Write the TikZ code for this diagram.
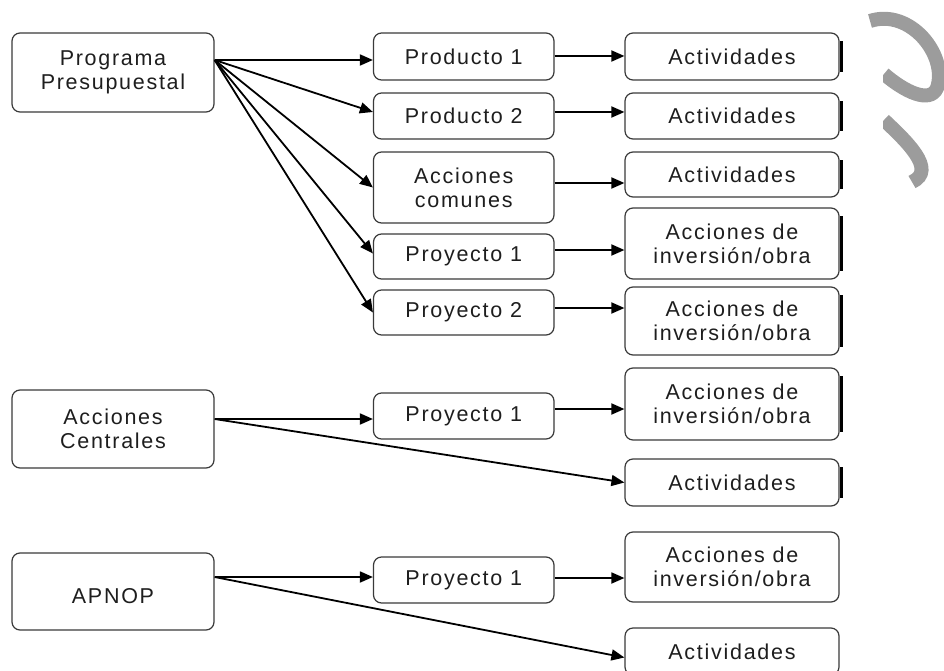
\documentclass[tikz,border=0pt]{standalone}
\usepackage{fontspec}
\setmainfont{Liberation Sans}[LetterSpace=8]
\usetikzlibrary{arrows.meta}
\definecolor{txt}{HTML}{1E1E1E}
\definecolor{edge}{HTML}{3A3A3A}
\definecolor{swirl}{HTML}{9C9C9C}
\begin{document}
\begin{tikzpicture}[x=1pt,y=-1pt,
  box/.style={draw=edge,line width=1.2pt,rounded corners=8pt,fill=white,
    align=center,inner sep=0pt,text=txt,
    font=\fontsize{21.5}{24}\selectfont},
  leftbox/.style={box,minimum width=202pt},
  midbox/.style={box,minimum width=180.5pt},
  rightbox/.style={box,minimum width=214pt},
  arr/.style={draw=black,line width=1.8pt,-{Triangle[length=13pt,width=11pt]}},
  shade/.style={draw=black,line width=2.6pt}]
\useasboundingbox (0,0) rectangle (944,671);
% decoration
\begin{scope}
\clip (855,0) -- (944,0) -- (944,200) -- (883,200) -- (883,30) -- (855,30) -- cycle;
\draw[swirl,line width=14pt] (870,21) .. controls (910,8) and (948,55) .. (937,88)
   .. controls (930,104) and (905,92) .. (884,74);
\draw[swirl,line width=14pt] (884,120) .. controls (905,140) and (938,170) .. (912,182);
\end{scope}
% left column
\node[leftbox,minimum height=79pt] (prog) at (113,72.5) {Programa\\Presupuestal};
\node[leftbox,minimum height=78pt] (acen) at (113,429) {Acciones\\Centrales};
\node[leftbox,minimum height=77pt] (apnop) at (113,591.5) {\mbox{}\\APNOP};
% middle column
\node[midbox,minimum height=47pt] (pr1) at (463.75,56.5) {Producto 1};
\node[midbox,minimum height=46pt] (pr2) at (463.75,116) {Producto 2};
\node[midbox,minimum height=71pt] (acom) at (463.75,187.5) {Acciones\\comunes};
\node[midbox,minimum height=45pt] (py1) at (463.75,256.5) {Proyecto 1};
\node[midbox,minimum height=45pt] (py2) at (463.75,312.5) {Proyecto 2};
\node[midbox,minimum height=46pt] (cp1) at (463.75,416) {Proyecto 1};
\node[midbox,minimum height=46pt] (ap1) at (463.75,580) {Proyecto 1};
% right column
\node[rightbox,minimum height=47pt] (a1) at (732,56.5) {Actividades};
\node[rightbox,minimum height=46pt] (a2) at (732,116) {Actividades};
\node[rightbox,minimum height=45pt] (a3) at (732,174.5) {Actividades};
\node[rightbox,minimum height=71pt] (i1) at (732,243.5) {Acciones de\\inversión/obra};
\node[rightbox,minimum height=68pt] (i2) at (732,321) {Acciones de\\inversión/obra};
\node[rightbox,minimum height=72pt] (i3) at (732,404) {Acciones de\\inversión/obra};
\node[rightbox,minimum height=47pt] (a4) at (732,482.5) {Actividades};
\node[rightbox,minimum height=70pt] (i4) at (732,567) {Acciones de\\inversión/obra};
\node[rightbox,minimum height=47pt] (a5) at (732,651.5) {Actividades};
% right edge shading
\foreach \n in {a1,a2,a3,i1,i2,i3,a4}{
  \draw[shade] ([xshift=1.8pt,yshift=-9pt]\n.north east) -- ([xshift=1.8pt,yshift=9pt]\n.south east);
}
% connectors from Programa Presupuestal
\coordinate (ps) at ([yshift=12.5pt]prog.east);
\draw[arr] (ps) -- (ps -| pr1.west);
\draw[arr] (ps) -- ([yshift=4pt]pr2.west);
\draw[arr] (ps) -- (acom.west);
\draw[arr] (ps) -- ([yshift=3pt]py1.west);
\draw[arr] (ps) -- (py2.west);
% middle to right
\draw[arr] ([yshift=0.5pt]pr1.east) -- ([yshift=0.5pt]pr1.east -| a1.west);
\draw[arr] ([yshift=4pt]pr2.east) -- ([yshift=4pt]pr2.east -| a2.west);
\draw[arr] ([yshift=4.5pt]acom.east) -- ([yshift=4.5pt]acom.east -| a3.west);
\draw[arr] ([yshift=6.5pt]py1.east) -- ([yshift=6.5pt]py1.east -| i1.west);
\draw[arr] ([yshift=4.5pt]py2.east) -- ([yshift=4.5pt]py2.east -| i2.west);
\draw[arr] ([yshift=7pt]cp1.east) -- ([yshift=7pt]cp1.east -| i3.west);
\draw[arr] ([yshift=2pt]ap1.east) -- ([yshift=2pt]ap1.east -| i4.west);
% Acciones Centrales
\coordinate (cs) at ([yshift=10pt]acen.east);
\draw[arr] (cs) -- (cs -| cp1.west);
\draw[arr] (cs) -- (a4.west);
% APNOP
\coordinate (as) at ([yshift=14.5pt]apnop.east);
\draw[arr] (as) -- (as -| ap1.west);
\draw[arr] (as) -- ([yshift=-6pt]a5.west);
\end{tikzpicture}
\end{document}
